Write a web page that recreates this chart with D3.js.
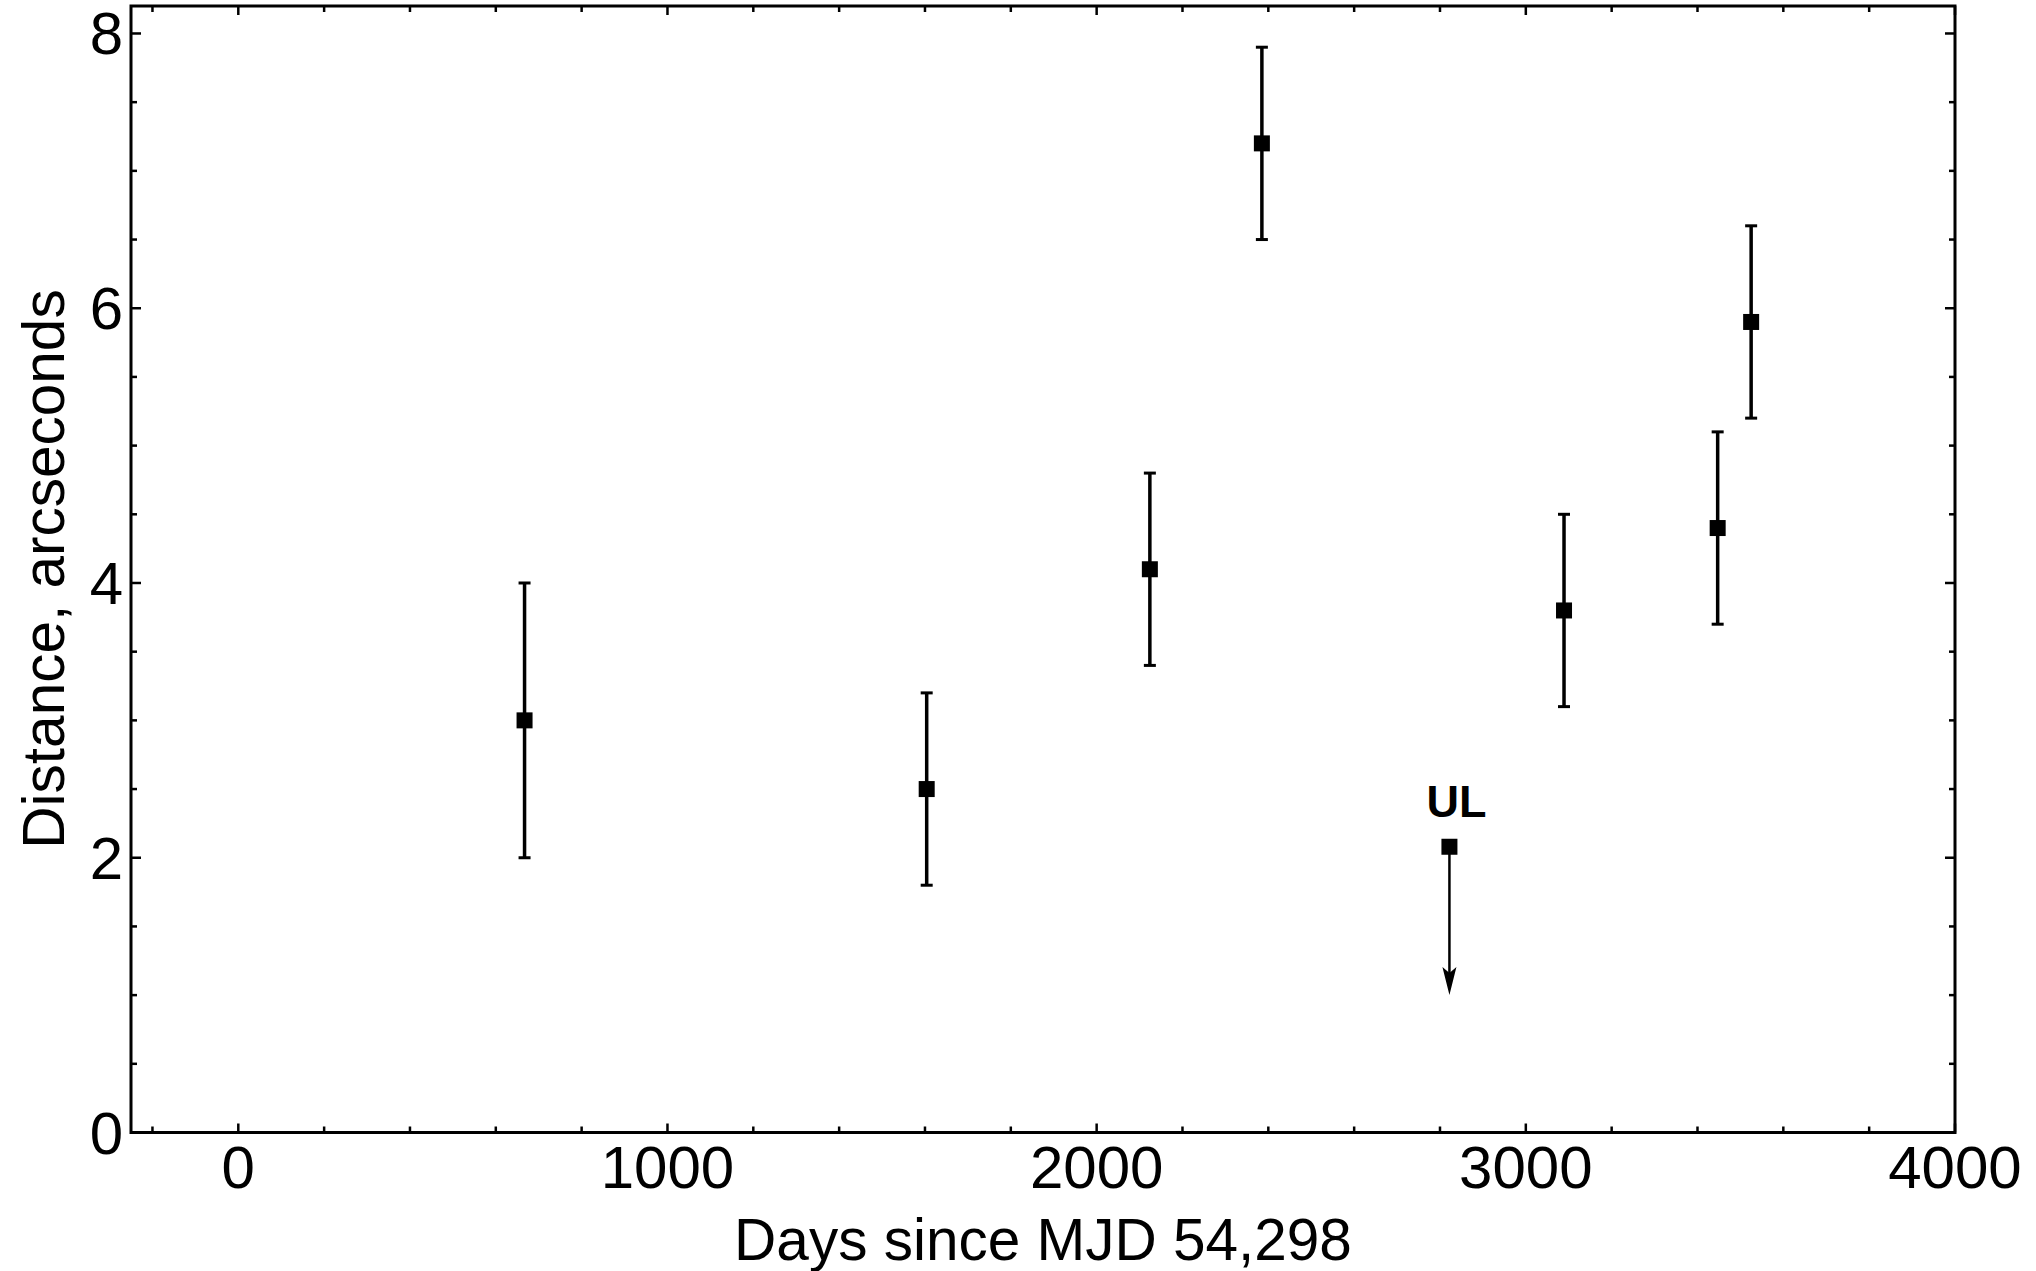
<!DOCTYPE html>
<html>
<head>
<meta charset="utf-8">
<script src="https://cdn.jsdelivr.net/npm/d3@7"></script>
<style>
  body { margin: 0; background: #fff; }
  svg { display: block; font-family: Helvetica, "Liberation Sans", Arial, sans-serif; }
</style>
</head>
<body>
<svg width="2036" height="1271"></svg>
<script>
// measured points
const days = [667, 1604, 2124, 2385, 3089, 3447, 3525];
const dist = [3.0, 2.5, 4.1, 7.2, 3.8, 4.4, 5.9];
const err = [1.0, 0.7, 0.7, 0.7, 0.7, 0.7, 0.7];

// upper limit point
const ulDay = [2822];
const ulDist = [2.08];
const ulArrowTo = [1.0];
const ulLabel = "UL";

const xTicks = [0, 1000, 2000, 3000, 4000];
const yTicks = [0, 2, 4, 6, 8];

const pLeft = 131, pRight = 1955, pTop = 6, pBottom = 1132.5;

const svg = d3.select('svg');

const x = d3.scaleLinear().domain([-250, 4000]).range([pLeft, pRight]);
const y = d3.scaleLinear().domain([0, 8.2]).range([pBottom, pTop]);

const xMinor = d3.range(-200, 4001, 200).filter(v => v % 1000 !== 0);
const yMinor = d3.range(0, 8.21, 0.5).filter(v => v % 2 !== 0);

// ticks, inward on all four sides
const tickG = svg.append('g').attr('stroke', '#000').attr('stroke-width', 2.5);

const xAll = xTicks.map(v => ({ v, len: 9 })).concat(xMinor.map(v => ({ v, len: 6 })));
const yAll = yTicks.map(v => ({ v, len: 10 })).concat(yMinor.map(v => ({ v, len: 6 })));

tickG.selectAll('.xb').data(xAll).enter().append('line')
  .attr('x1', d => x(d.v)).attr('x2', d => x(d.v))
  .attr('y1', pBottom).attr('y2', d => pBottom - d.len);
tickG.selectAll('.xt').data(xAll).enter().append('line')
  .attr('x1', d => x(d.v)).attr('x2', d => x(d.v))
  .attr('y1', pTop).attr('y2', d => pTop + d.len);
tickG.selectAll('.yl').data(yAll).enter().append('line')
  .attr('y1', d => y(d.v)).attr('y2', d => y(d.v))
  .attr('x1', pLeft).attr('x2', d => pLeft + d.len);
tickG.selectAll('.yr').data(yAll).enter().append('line')
  .attr('y1', d => y(d.v)).attr('y2', d => y(d.v))
  .attr('x1', pRight).attr('x2', d => pRight - d.len);

// frame
svg.append('rect')
  .attr('x', pLeft).attr('y', pTop)
  .attr('width', pRight - pLeft).attr('height', pBottom - pTop)
  .attr('fill', 'none').attr('stroke', '#000').attr('stroke-width', 3);

// tick labels
svg.selectAll('.xl').data(xTicks).enter().append('text')
  .attr('x', d => x(d)).attr('y', 1188)
  .attr('text-anchor', 'middle')
  .attr('font-size', 60)
  .text(d => d);

svg.selectAll('.ylab').data(yTicks).enter().append('text')
  .attr('x', 123).attr('y', d => y(d) + 21)
  .attr('text-anchor', 'end')
  .attr('font-size', 60)
  .text(d => d);

// axis titles
svg.append('text')
  .attr('x', 1043).attr('y', 1260)
  .attr('text-anchor', 'middle')
  .attr('font-size', 58.5)
  .text('Days since MJD 54,298');

svg.append('text')
  .attr('transform', 'translate(64,569) rotate(-90)')
  .attr('text-anchor', 'middle')
  .attr('font-size', 58.5)
  .text('Distance, arcseconds');

// error bars
const pts = days.map((d, i) => ({ d, v: dist[i], e: err[i] }));
const eb = svg.append('g').attr('stroke', '#000').attr('stroke-width', 3.5);

eb.selectAll('.bar').data(pts).enter().append('line')
  .attr('x1', d => x(d.d)).attr('x2', d => x(d.d))
  .attr('y1', d => y(d.v - d.e)).attr('y2', d => y(d.v + d.e));
eb.selectAll('.capTop').data(pts).enter().append('line')
  .attr('x1', d => x(d.d) - 6).attr('x2', d => x(d.d) + 6)
  .attr('y1', d => y(d.v + d.e)).attr('y2', d => y(d.v + d.e))
  .attr('stroke-width', 3);
eb.selectAll('.capBot').data(pts).enter().append('line')
  .attr('x1', d => x(d.d) - 6).attr('x2', d => x(d.d) + 6)
  .attr('y1', d => y(d.v - d.e)).attr('y2', d => y(d.v - d.e))
  .attr('stroke-width', 3);

svg.selectAll('.pt').data(pts).enter().append('rect')
  .attr('x', d => x(d.d) - 8).attr('y', d => y(d.v) - 8)
  .attr('width', 16).attr('height', 16)
  .attr('fill', '#000');

// upper limit with arrow
const ul = ulDay.map((d, i) => ({ d, v: ulDist[i], to: ulArrowTo[i] }));

svg.selectAll('.ulLine').data(ul).enter().append('line')
  .attr('x1', d => x(d.d)).attr('x2', d => x(d.d))
  .attr('y1', d => y(d.v)).attr('y2', d => y(d.to) - 20)
  .attr('stroke', '#000').attr('stroke-width', 2.5);

svg.selectAll('.ulArrow').data(ul).enter().append('path')
  .attr('d', d => {
    const cx = x(d.d), ty = y(d.to);
    return `M${cx - 7},${ty - 28} L${cx},${ty - 22} L${cx + 7},${ty - 28} L${cx},${ty} Z`;
  })
  .attr('fill', '#000');

svg.selectAll('.ulPt').data(ul).enter().append('rect')
  .attr('x', d => x(d.d) - 8).attr('y', d => y(d.v) - 8)
  .attr('width', 16).attr('height', 16)
  .attr('fill', '#000');

svg.selectAll('.ulText').data(ul).enter().append('text')
  .attr('x', d => x(d.d) + 7).attr('y', d => y(d.v) - 30)
  .attr('text-anchor', 'middle')
  .attr('font-size', 45)
  .attr('font-weight', 'bold')
  .text(ulLabel);
</script>
</body>
</html>
